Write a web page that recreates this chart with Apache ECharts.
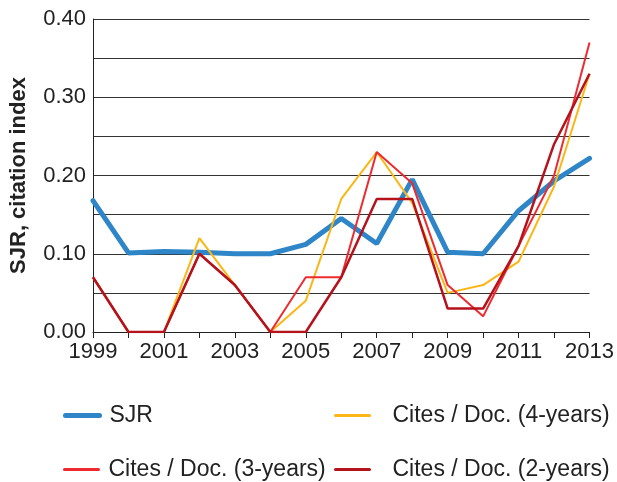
<!DOCTYPE html>
<html>
	<head>
		<meta charset="utf-8" />
		<title>SJR</title>
		<script src="https://cdn.jsdelivr.net/npm/echarts@6/dist/echarts.min.js"></script>
		<style>
			body { margin: 0; background: #fff; }
			#main { width: 617px; height: 482px; }
		</style>
	</head>
	<body>
		<div id="main"></div>
	</body>
	<script type="text/javascript">
		// values
		var years = ['1999', '2000', '2001', '2002', '2003', '2004', '2005', '2006', '2007', '2008', '2009', '2010', '2011', '2012', '2013'];
		var sjr = [0.168, 0.101, 0.103, 0.102, 0.100, 0.100, 0.112, 0.145, 0.113, 0.195, 0.102, 0.100, 0.155, 0.193, 0.222];
		var cites4 = [0.07, 0, 0, 0.12, 0.06, 0, 0.04, 0.17, 0.23, 0.165, 0.05, 0.06, 0.09, 0.186, 0.33];
		var cites3 = [0.07, 0, 0, 0.10, 0.06, 0, 0.07, 0.07, 0.23, 0.19, 0.06, 0.02, 0.11, 0.20, 0.37];
		var cites2 = [0.07, 0, 0, 0.10, 0.06, 0, 0, 0.07, 0.17, 0.17, 0.03, 0.03, 0.11, 0.24, 0.33];

		var myCharts = echarts.init(document.getElementById("main"));
		var font = 'Liberation Sans, Arial, sans-serif';

		// one legend per entry so each can have its own line width and spot
		function oneLegend(name, left, top, width, gap) {
			return {
				left: left, top: top, padding: 0,
				itemWidth: 34, itemHeight: 26,
				itemStyle: { opacity: 0 },
				lineStyle: { width: width, cap: 'round' },
				textStyle: { fontSize: 23, color: '#222', fontFamily: font, padding: [0, 0, 0, gap] },
				data: [name]
			};
		}

		var option = {
			animation: false,
			textStyle: { fontFamily: font },
			grid: { left: 92, right: 27, top: 19, bottom: 150 },
			legend: [
				oneLegend('SJR', 63, 404, 5, 5),
				oneLegend('Cites / Doc. (3-years)', 63, 458, 3, 5),
				oneLegend('Cites / Doc. (4-years)', 334, 404, 3, 18),
				oneLegend('Cites / Doc. (2-years)', 334, 458, 3, 18)
			],
			xAxis: {
				type: 'category',
				boundaryGap: false,
				data: years,
				axisLine: { lineStyle: { color: '#222', width: 1 } },
				axisTick: { show: true, length: 6, interval: 0, lineStyle: { color: '#222' } },
				axisLabel: { interval: 1, fontSize: 22, color: '#222', margin: 9 }
			},
			yAxis: {
				type: 'value',
				min: 0,
				max: 0.4,
				interval: 0.05,
				name: 'SJR, citation index',
				nameLocation: 'middle',
				nameGap: 63,
				nameTextStyle: { fontSize: 22, fontWeight: 'bold', color: '#222' },
				axisLine: { show: true, lineStyle: { color: '#222', width: 1 } },
				axisTick: { show: false },
				splitLine: { lineStyle: { color: '#333', width: 1 } },
				axisLabel: {
					fontSize: 22, color: '#222', margin: 7,
					formatter: function (v) {
						return Math.round(v * 100) % 10 === 0 ? v.toFixed(2) : '';
					}
				}
			},
			series: [{
				name: 'SJR', type: 'line', data: sjr, symbol: 'none', z: 2,
				color: '#2e86c8', lineStyle: { width: 5, color: '#2e86c8', cap: 'round' }
			}, {
				name: 'Cites / Doc. (4-years)', type: 'line', data: cites4, symbol: 'none', z: 3,
				color: '#fbb616', lineStyle: { width: 2, color: '#fbb616' }
			}, {
				name: 'Cites / Doc. (3-years)', type: 'line', data: cites3, symbol: 'none', z: 4,
				color: '#ee2a2f', lineStyle: { width: 2, color: '#ee2a2f' }
			}, {
				name: 'Cites / Doc. (2-years)', type: 'line', data: cites2, symbol: 'none', z: 5,
				color: '#b5121b', lineStyle: { width: 2.5, color: '#b5121b' }
			}]
		};
		myCharts.setOption(option);
	</script>
</html>
